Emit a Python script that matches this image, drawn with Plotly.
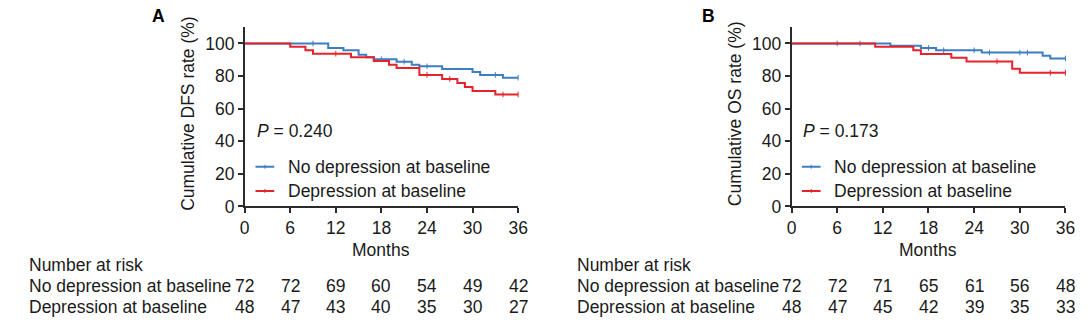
import numpy as np
import plotly.graph_objects as go

# ---------------- data ----------------
months_ticks = [0, 6, 12, 18, 24, 30, 36]
y_ticks = [0, 20, 40, 60, 80, 100]

# Panel A (DFS)
dfs_no_t = [0, 11, 13, 15, 16, 17, 20, 22, 23, 26, 30, 31, 34, 36]
dfs_no_s = [100, 97.2, 95.8, 93.0, 91.5, 90.3, 88.8, 87.0, 86.0, 84.4, 82.5, 80.7, 79.0, 79.0]
dfs_dep_t = [0, 6, 8, 9, 14, 17, 19, 20, 23, 26, 28, 29, 30, 33, 36]
dfs_dep_s = [100, 97.9, 95.8, 93.7, 91.5, 89.3, 87.0, 85.0, 80.7, 78.2, 75.8, 73.3, 70.9, 68.7, 68.7]
dfs_no_cens = [9, 18, 21, 24, 33, 36]
dfs_dep_cens = [12, 24, 27, 34, 36]

# Panel B (OS)
os_no_t = [0, 13, 17, 19, 25, 33, 34, 36]
os_no_s = [100, 98.6, 97.2, 95.8, 94.4, 92.4, 90.8, 90.8]
os_dep_t = [0, 11, 16, 17, 21, 23, 29, 30, 36]
os_dep_s = [100, 97.9, 95.8, 93.6, 91.2, 89.0, 84.5, 82.0, 82.0]
os_no_cens = [6, 9, 18, 20, 24, 26, 30, 31, 36]
os_dep_cens = [27, 34, 36]

risk_rows = ["No depression at baseline", "Depression at baseline"]
dfs_risk_no = [72, 72, 69, 60, 54, 49, 42]
dfs_risk_dep = [48, 47, 43, 40, 35, 30, 27]
os_risk_no = [72, 72, 71, 65, 61, 56, 48]
os_risk_dep = [48, 47, 45, 42, 39, 35, 33]

p_values = ["0.240", "0.173"]
y_titles = ["Cumulative DFS rate (%)", "Cumulative OS rate (%)"]
panel_labels = ["A", "B"]

# ---------------- style ----------------
BLUE = "#3D7DC2"
RED = "#E5232A"
AX = "#2b2b2b"
TXT = "#1a1a1a"
FONT = "Arial, Liberation Sans, sans-serif"
FS = 17.5
W, H = 1088, 327


def px_x(p):
    return p / W


def px_y(p):
    return 1 - p / H


def step_at(ts, ss, t):
    i = np.searchsorted(np.array(ts), t, side="right") - 1
    return ss[max(i, 0)]


fig = go.Figure()

panels = [
    dict(xa="x", ya="y", curves=[(dfs_no_t, dfs_no_s, dfs_no_cens, BLUE), (dfs_dep_t, dfs_dep_s, dfs_dep_cens, RED)],
         risk=[dfs_risk_no, dfs_risk_dep], xdom=[243.0 / W, 520.3 / W], left=22, ytitle_x=186, label_x=156,
         text_x=253, leg_x0=254),
    dict(xa="x2", ya="y2", curves=[(os_no_t, os_no_s, os_no_cens, BLUE), (os_dep_t, os_dep_s, os_dep_cens, RED)],
         risk=[os_risk_no, os_risk_dep], xdom=[797.5 / W, 1075.3 / W], left=578, ytitle_x=741, label_x=713,
         text_x=807, leg_x0=808),
]

ydom = [1 - 213.0 / H, 1 - 28 / H]
annotations = []
shapes = []

for k, pn in enumerate(panels):
    for ts, ss, cens, col in pn["curves"]:
        fig.add_trace(go.Scatter(x=ts, y=ss, mode="lines", line=dict(color=col, width=2, shape="hv"),
                                 xaxis=pn["xa"], yaxis=pn["ya"], hoverinfo="skip"))
        cy = [step_at(ts, ss, c) for c in cens]
        fig.add_trace(go.Scatter(x=cens, y=cy, mode="markers",
                                 marker=dict(symbol="line-ns", size=4, line=dict(color=col, width=1)),
                                 xaxis=pn["xa"], yaxis=pn["ya"], hoverinfo="skip", cliponaxis=False))

    # Months title
    annotations.append(dict(text="Months", xref=pn["xa"], x=18, yref="paper", y=px_y(258), showarrow=False,
                            font=dict(size=FS, color=TXT), xanchor="center", yanchor="middle"))
    # Risk table
    annotations.append(dict(text="Number at risk", xref="paper", x=px_x(pn["left"]), yref="paper", y=px_y(273),
                            showarrow=False, xanchor="left", yanchor="middle", font=dict(size=FS, color=TXT)))
    for r, (name, vals) in enumerate(zip(risk_rows, pn["risk"])):
        yy = px_y(295.5 + r * 21.5)
        annotations.append(dict(text=name, xref="paper", x=px_x(pn["left"]), yref="paper", y=yy,
                                showarrow=False, xanchor="left", yanchor="middle", font=dict(size=FS, color=TXT)))
        for t, v in zip(months_ticks, vals):
            annotations.append(dict(text=str(v), xref=pn["xa"], x=t, yref="paper", y=yy, showarrow=False,
                                    xanchor="center", yanchor="middle", font=dict(size=FS, color=TXT)))
    # Y title
    annotations.append(dict(text=y_titles[k], xref="paper", x=px_x(pn["ytitle_x"]), yref="paper", y=px_y(117),
                            textangle=-90, showarrow=False, xanchor="center", yanchor="middle",
                            font=dict(size=FS, color=TXT)))
    # Panel label
    annotations.append(dict(text="<b>%s</b>" % panel_labels[k], xref="paper", x=px_x(pn["label_x"]), yref="paper",
                            y=px_y(17), showarrow=False, xanchor="center", yanchor="middle",
                            font=dict(size=FS, color="#000")))
    # P value
    annotations.append(dict(text="<i>P</i> = %s" % p_values[k], xref="paper", x=px_x(pn["text_x"]), yref="paper",
                            y=px_y(135), showarrow=False, xanchor="left", yanchor="middle",
                            font=dict(size=FS, color=TXT)))
    # Legend
    for r, (name, col) in enumerate(zip(risk_rows, [BLUE, RED])):
        ly = 172 + r * 25
        x0 = pn["leg_x0"]
        shapes.append(dict(type="line", xref="paper", yref="paper", x0=px_x(x0), x1=px_x(x0 + 19),
                           y0=px_y(ly), y1=px_y(ly), line=dict(color=col, width=2)))
        shapes.append(dict(type="line", xref="paper", yref="paper", x0=px_x(x0 + 9.5), x1=px_x(x0 + 9.5),
                           y0=px_y(ly - 2), y1=px_y(ly + 2), line=dict(color=col, width=1)))
        annotations.append(dict(text=name, xref="paper", x=px_x(x0 + 31), yref="paper", y=px_y(ly),
                                showarrow=False, xanchor="left", yanchor="middle", font=dict(size=FS, color=TXT)))

axis_common = dict(showgrid=False, zeroline=False, showline=True, linecolor=AX, linewidth=1.5,
                   ticks="outside", ticklen=5, tickwidth=1.5, tickcolor=AX,
                   tickfont=dict(size=FS, color=TXT, family=FONT))

fig.update_layout(
    autosize=True, margin=dict(l=0, r=0, t=0, b=0),
    paper_bgcolor="white", plot_bgcolor="white", showlegend=False,
    font=dict(family=FONT, size=FS, color=TXT),
    xaxis=dict(domain=panels[0]["xdom"], range=[0, 36], tickvals=months_ticks, anchor="y", **axis_common),
    yaxis=dict(domain=ydom, range=[0, 110], tickvals=y_ticks, anchor="x", **axis_common),
    xaxis2=dict(domain=panels[1]["xdom"], range=[0, 36], tickvals=months_ticks, anchor="y2", **axis_common),
    yaxis2=dict(domain=ydom, range=[0, 110], tickvals=y_ticks, anchor="x2", **axis_common),
    annotations=annotations, shapes=shapes,
)

fig.write_html("out.html", config={"displayModeBar": False, "responsive": True},
               default_width="100%", default_height="100%")

# make the page exactly fill the browser window
with open("out.html", "r", encoding="utf-8") as f:
    html = f.read()
css = ("<style>html,body{margin:0;padding:0;width:100%;height:100%;overflow:hidden;}"
       "body>div{width:100%;height:100%;}</style>")
html = html.replace("<head>", "<head>" + css, 1)
with open("out.html", "w", encoding="utf-8") as f:
    f.write(html)
